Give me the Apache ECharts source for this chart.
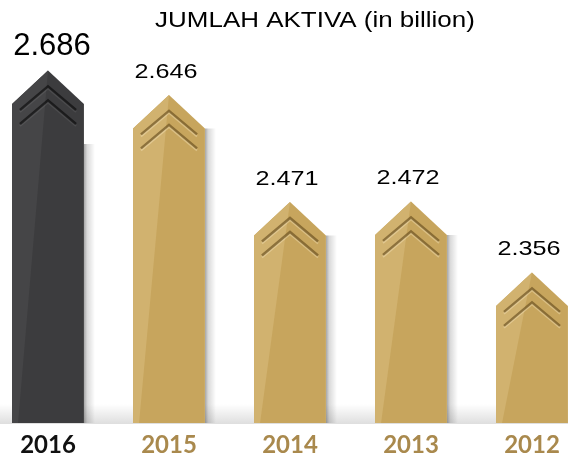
<!DOCTYPE html>
<html>
<head>
<meta charset="utf-8">
<script src="https://cdn.jsdelivr.net/npm/echarts@6/dist/echarts.min.js"></script>
<style>
html,body{margin:0;padding:0;background:#fff;}
#chart{width:568px;height:457px;}
</style>
</head>
<body>
<div id="chart"></div>
<script>
const titleText = 'JUMLAH AKTIVA (in billion)';
const years = ['2016', '2015', '2014', '2013', '2012'];
const values = [2.686, 2.646, 2.471, 2.472, 2.356];
const valueLabels = ['2.686', '2.646', '2.471', '2.472', '2.356'];

const Y_MIN = 2.11;
const Y_MAX = 2.70;

function renderItem(params, api) {
  const i = api.value(0);
  const v = api.value(1);
  const top = api.coord([i, v]);
  const base = api.coord([i, Y_MIN]);
  const p0 = api.coord([0, v]);
  const p1 = api.coord([1, v]);
  const band = Math.abs(p1[0] - p0[0]);
  const half = band * 0.297;
  const cx = top[0];
  const ay = top[1];
  const by = base[1];
  const sy = ay + half * 0.93;
  const hi = i === 0;
  const main = hi ? '#3c3c3e' : '#c7a55d';
  const light = hi ? '#454547' : '#d1b26f';
  const groove = hi ? 'rgba(0,0,0,0.55)' : 'rgba(95,70,25,0.6)';
  const glint = hi ? 'rgba(255,255,255,0.08)' : 'rgba(255,240,205,0.35)';
  const children = [];
  // side shadow
  const shTop = sy + (hi ? 40 : 0);
  children.push({
    type: 'rect',
    shape: { x: cx + half, y: shTop, width: 11, height: by - shTop },
    style: {
      fill: new echarts.graphic.LinearGradient(0, 0, 1, 0, [
        { offset: 0, color: 'rgba(0,0,0,0.35)' },
        { offset: 0.3, color: 'rgba(0,0,0,0.15)' },
        { offset: 1, color: 'rgba(0,0,0,0)' }
      ])
    }
  });
  // body
  children.push({
    type: 'polygon',
    shape: { points: [[cx - half, by], [cx - half, sy], [cx, ay], [cx + half, sy], [cx + half, by]] },
    style: { fill: main }
  });
  // lighter left facet
  children.push({
    type: 'polygon',
    shape: { points: [[cx - half, by], [cx - half + 6, by], [cx, ay], [cx - half, sy]] },
    style: { fill: light }
  });
  // chevrons
  const cw = half * 0.78;
  const ch = cw * 0.84;
  [0.44, 0.83].forEach(function (k) {
    const cy = ay + half * k;
    children.push({
      type: 'polyline',
      shape: { points: [[cx - cw, cy + ch + 2], [cx, cy + 2], [cx + cw, cy + ch + 2]] },
      style: { stroke: glint, lineWidth: 2, fill: null }
    });
    children.push({
      type: 'polyline',
      shape: { points: [[cx - cw, cy + ch], [cx, cy], [cx + cw, cy + ch]] },
      style: { stroke: groove, lineWidth: 2.5, fill: null }
    });
  });
  // value label
  children.push({
    type: 'text',
    x: hi ? cx + 4 : cx - 3,
    y: hi ? ay - 24 : ay - 23,
    scaleX: hi ? 1 : 1.2,
    style: {
      text: valueLabels[i],
      fontFamily: '"Liberation Sans", Arial, sans-serif',
      fontSize: hi ? 31 : 21,
      fill: '#000',
      align: 'center',
      verticalAlign: 'middle'
    }
  });
  return { type: 'group', children: children };
}

const chart = echarts.init(document.getElementById('chart'), null, { renderer: 'canvas' });
chart.setOption({
  animation: false,
  backgroundColor: '#fff',
  graphic: [
    {
      type: 'rect',
      z: 0,
      shape: { x: 0, y: 404, width: 568, height: 20 },
      style: {
        fill: new echarts.graphic.LinearGradient(0, 0, 0, 1, [
          { offset: 0, color: 'rgba(0,0,0,0)' },
          { offset: 1, color: 'rgba(0,0,0,0.13)' }
        ])
      }
    },
    {
      type: 'text',
      z: 10,
      x: 315,
      y: 21,
      scaleX: 1.18,
      style: {
        text: titleText,
        fontFamily: '"Liberation Sans", Arial, sans-serif',
        fontSize: 22,
        fill: '#000',
        align: 'center',
        verticalAlign: 'middle'
      }
    }
  ],
  grid: { left: 48, right: 36, top: 62, bottom: 34, containLabel: false },
  xAxis: {
    type: 'category',
    data: years,
    boundaryGap: false,
    axisLine: { show: false },
    axisTick: { show: false },
    splitLine: { show: false },
    axisLabel: {
      margin: 10,
      formatter: function (val, idx) { return idx === 0 ? '{a|' + val + '}' : '{b|' + val + '}'; },
      rich: {
        a: { fontFamily: 'Lato', fontWeight: 'bold', fontSize: 24, color: '#111111' },
        b: { fontFamily: 'Lato', fontWeight: 'bold', fontSize: 24, color: '#a9894d' }
      }
    }
  },
  yAxis: { type: 'value', min: Y_MIN, max: Y_MAX, show: false, splitLine: { show: false } },
  series: [{
    type: 'custom',
    z: 2,
    renderItem: renderItem,
    encode: { x: 0, y: 1 },
    data: values.map(function (v, i) { return [i, v]; })
  }]
});
</script>
</body>
</html>
